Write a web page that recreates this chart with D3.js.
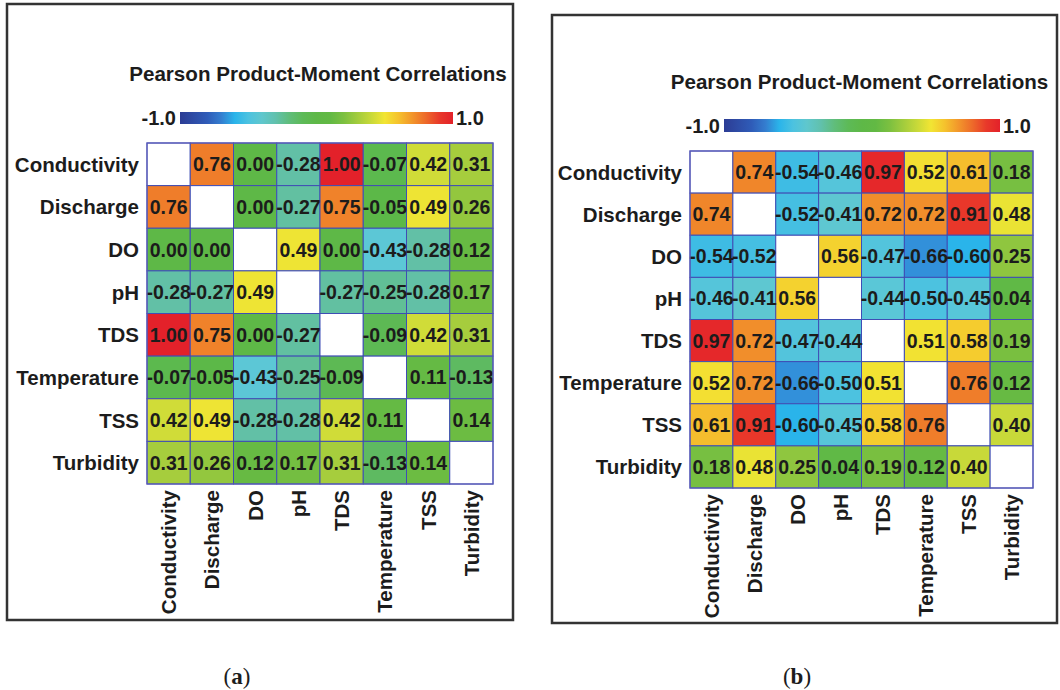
<!DOCTYPE html>
<html>
<head>
<meta charset="utf-8">
<script src="https://cdn.jsdelivr.net/npm/d3@7"></script>
<style>
  html, body { margin: 0; padding: 0; background: #fff; }
  svg { display: block; }
  text { font-family: "Liberation Sans", Arial, Helvetica, sans-serif; fill: #1c1c1c; }
</style>
</head>
<body>
<svg id="chart" width="1060" height="690"></svg>
<script>
// Water-quality variables (rows and columns share the same order)
const variables = ["Conductivity", "Discharge", "DO", "pH", "TDS", "Temperature", "TSS", "Turbidity"];

// Pearson correlations, panel (a); null on the diagonal
const corrA = [
  [null, 0.76, 0.00, -0.28, 1.00, -0.07, 0.42, 0.31],
  [0.76, null, 0.00, -0.27, 0.75, -0.05, 0.49, 0.26],
  [0.00, 0.00, null, 0.49, 0.00, -0.43, -0.28, 0.12],
  [-0.28, -0.27, 0.49, null, -0.27, -0.25, -0.28, 0.17],
  [1.00, 0.75, 0.00, -0.27, null, -0.09, 0.42, 0.31],
  [-0.07, -0.05, -0.43, -0.25, -0.09, null, 0.11, -0.13],
  [0.42, 0.49, -0.28, -0.28, 0.42, 0.11, null, 0.14],
  [0.31, 0.26, 0.12, 0.17, 0.31, -0.13, 0.14, null]
];

// Pearson correlations, panel (b)
const corrB = [
  [null, 0.74, -0.54, -0.46, 0.97, 0.52, 0.61, 0.18],
  [0.74, null, -0.52, -0.41, 0.72, 0.72, 0.91, 0.48],
  [-0.54, -0.52, null, 0.56, -0.47, -0.66, -0.60, 0.25],
  [-0.46, -0.41, 0.56, null, -0.44, -0.50, -0.45, 0.04],
  [0.97, 0.72, -0.47, -0.44, null, 0.51, 0.58, 0.19],
  [0.52, 0.72, -0.66, -0.50, 0.51, null, 0.76, 0.12],
  [0.61, 0.91, -0.60, -0.45, 0.58, 0.76, null, 0.40],
  [0.18, 0.48, 0.25, 0.04, 0.19, 0.12, 0.40, null]
];

// Colour-bar end labels
const scaleLabels = ["-1.0", "1.0"];
const captions = ["a", "b"];
const title = "Pearson Product-Moment Correlations";

// Rainbow colour scale, -1 (blue) through 0 (green) to +1 (red)
const color = d3.scaleLinear()
  .domain([-1.0, -0.8, -0.68, -0.6, -0.5, -0.42, -0.28, -0.18, -0.05, 0.1, 0.2, 0.3, 0.42, 0.5, 0.58, 0.65, 0.75, 0.9, 1.0])
  .range(["#2c3c94", "#2f5cb8", "#3584d4", "#2ab4ea", "#4cc2e0", "#5ec8d4", "#62c0a6", "#5fbc70", "#5cb848",
          "#62b944", "#7cc040", "#a2cc3d", "#d0dc38", "#f2e533", "#f5cc2e", "#f4aa2c", "#f0822a", "#e8392a", "#e3212a"])
  .clamp(true);

// two decimals, plain hyphen for negatives
const fmt = v => d3.format(".2f")(v).replace("\u2212", "-");

const svg = d3.select("#chart");
const defs = svg.append("defs");

const panels = [
  { data: corrA, caption: captions[0],
    frame: { x: 7, y: 4, w: 506, h: 616 },
    grid: { x: 147, y: 143, w: 346, h: 341 },
    titleY: 73, bar: { x: 180, y: 112, w: 273, h: 12 }, capX: 237 },
  { data: corrB, caption: captions[1],
    frame: { x: 552, y: 15, w: 505, h: 608 },
    grid: { x: 690, y: 151, w: 343, h: 337 },
    titleY: 81, bar: { x: 724, y: 119, w: 276, h: 13 }, capX: 797 }
];

panels.forEach((p, pi) => {
  const g = svg.append("g");

  // panel frame
  g.append("rect")
    .attr("x", p.frame.x).attr("y", p.frame.y)
    .attr("width", p.frame.w).attr("height", p.frame.h)
    .attr("fill", "none").attr("stroke", "#333").attr("stroke-width", 2.5);

  const x = d3.scaleBand().domain(variables).range([p.grid.x, p.grid.x + p.grid.w]);
  const y = d3.scaleBand().domain(variables).range([p.grid.y, p.grid.y + p.grid.h]);

  // title
  g.append("text")
    .attr("x", p.grid.x + p.grid.w / 2 - 2).attr("y", p.titleY)
    .attr("text-anchor", "middle").attr("dominant-baseline", "central")
    .attr("font-size", 20.6).attr("font-weight", "bold")
    .text(title);

  // colour bar
  const gradId = "grad" + pi;
  const grad = defs.append("linearGradient").attr("id", gradId)
    .attr("x1", "0%").attr("x2", "100%").attr("y1", "0%").attr("y2", "0%");
  d3.range(0, 1.0001, 0.05).forEach(t => {
    grad.append("stop").attr("offset", (t * 100) + "%").attr("stop-color", color(-1 + 2 * t));
  });
  g.append("rect")
    .attr("x", p.bar.x).attr("y", p.bar.y).attr("width", p.bar.w).attr("height", p.bar.h)
    .attr("fill", `url(#${gradId})`);
  g.append("text")
    .attr("x", p.bar.x - 4).attr("y", p.bar.y + p.bar.h / 2)
    .attr("text-anchor", "end").attr("dominant-baseline", "central")
    .attr("font-size", 20).attr("font-weight", "bold").text(scaleLabels[0]);
  g.append("text")
    .attr("x", p.bar.x + p.bar.w + 3).attr("y", p.bar.y + p.bar.h / 2)
    .attr("text-anchor", "start").attr("dominant-baseline", "central")
    .attr("font-size", 20).attr("font-weight", "bold").text(scaleLabels[1]);

  // cells
  const cells = [];
  p.data.forEach((row, i) => row.forEach((v, j) => cells.push({ r: variables[i], c: variables[j], v })));

  g.append("g").selectAll("rect").data(cells).join("rect")
    .attr("x", d => x(d.c)).attr("y", d => y(d.r))
    .attr("width", x.bandwidth()).attr("height", y.bandwidth())
    .attr("fill", d => d.v === null ? "#fff" : color(d.v))
    .attr("stroke", "#3f4db5").attr("stroke-width", 1);

  g.append("g").selectAll("text").data(cells.filter(d => d.v !== null)).join("text")
    .attr("x", d => x(d.c) + x.bandwidth() / 2)
    .attr("y", d => y(d.r) + y.bandwidth() / 2)
    .attr("text-anchor", "middle").attr("dominant-baseline", "central")
    .attr("font-size", 19.5).attr("font-weight", "bold")
    .text(d => fmt(d.v));

  // outer border of the matrix
  g.append("rect")
    .attr("x", p.grid.x).attr("y", p.grid.y).attr("width", p.grid.w).attr("height", p.grid.h)
    .attr("fill", "none").attr("stroke", "#5a5ab8").attr("stroke-width", 1.2);

  // row labels
  g.append("g").selectAll("text").data(variables).join("text")
    .attr("x", p.grid.x - 8)
    .attr("y", d => y(d) + y.bandwidth() / 2)
    .attr("text-anchor", "end").attr("dominant-baseline", "central")
    .attr("font-size", 20.5).attr("font-weight", "bold")
    .text(d => d);

  // column labels (vertical)
  g.append("g").selectAll("text").data(variables).join("text")
    .attr("transform", d => `translate(${x(d) + x.bandwidth() / 2},${p.grid.y + p.grid.h + 6}) rotate(-90)`)
    .attr("text-anchor", "end").attr("dominant-baseline", "central")
    .attr("font-size", 20.5).attr("font-weight", "bold")
    .text(d => d);

  // panel caption
  const cap = g.append("text")
    .attr("x", p.capX).attr("y", 676)
    .attr("text-anchor", "middle").attr("dominant-baseline", "central")
    .attr("font-size", 23)
    .style("font-family", "'Liberation Serif', 'DejaVu Serif', serif");
  cap.append("tspan").text("(");
  cap.append("tspan").attr("font-weight", "bold").text(p.caption);
  cap.append("tspan").text(")");
});
</script>
</body>
</html>
